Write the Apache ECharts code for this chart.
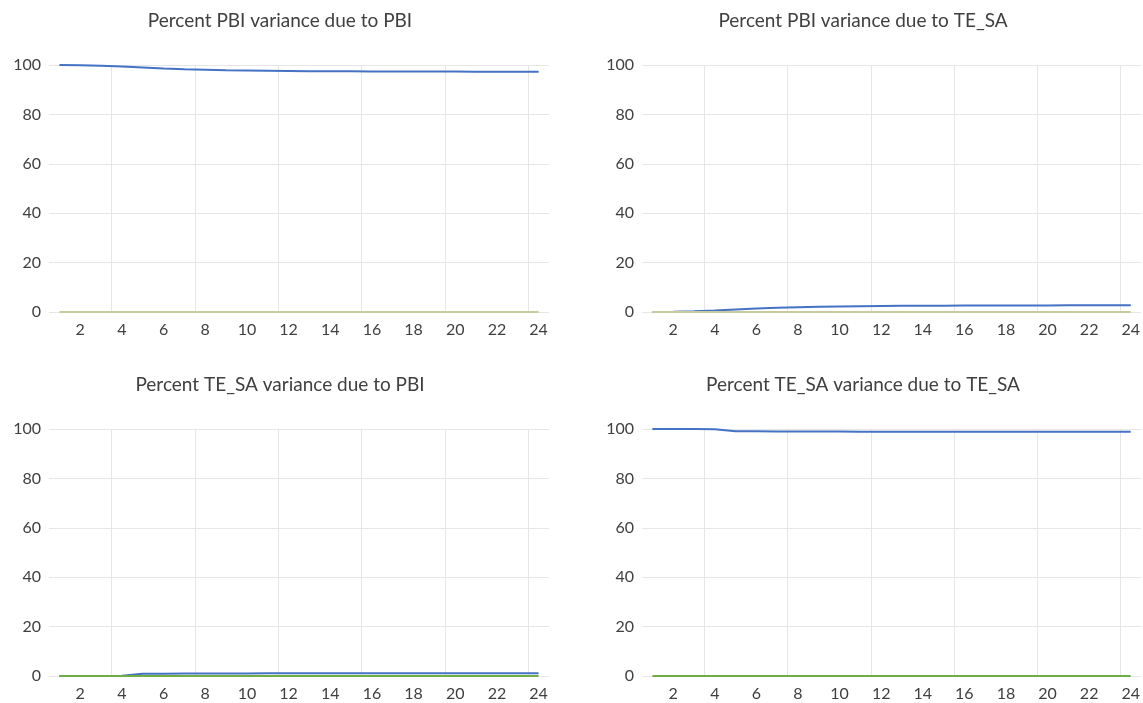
<!DOCTYPE html>
<html>
<head>
<meta charset="utf-8">
<title>Variance decomposition</title>
<script src="https://cdn.jsdelivr.net/npm/echarts@6/dist/echarts.min.js"></script>
<style>
  html, body { margin: 0; padding: 0; background: #ffffff; }
  #chart { width: 1143px; height: 703px; }
</style>
</head>
<body>
<div id="chart"></div>
<script>
// Forecast horizons (periods ahead)
const horizons = ['1','2','3','4','5','6','7','8','9','10','11','12',
                  '13','14','15','16','17','18','19','20','21','22','23','24'];

// Panel titles
const titles = [
  'Percent PBI variance due to PBI',
  'Percent PBI variance due to TE_SA',
  'Percent TE_SA variance due to PBI',
  'Percent TE_SA variance due to TE_SA'
];

// Variance decomposition shares (percent)
const pbiDuePbi = [100, 99.9, 99.7, 99.4, 99.0, 98.6, 98.3, 98.1, 97.9, 97.8, 97.7, 97.6,
                   97.5, 97.5, 97.45, 97.4, 97.4, 97.4, 97.35, 97.35, 97.3, 97.3, 97.3, 97.3];
const pbiDueTe  = [0, 0.1, 0.3, 0.6, 1.0, 1.4, 1.7, 1.9, 2.1, 2.2, 2.3, 2.4,
                   2.5, 2.5, 2.55, 2.6, 2.6, 2.6, 2.65, 2.65, 2.7, 2.7, 2.7, 2.7];
const teDuePbi  = [0, 0, 0.05, 0.1, 0.9, 0.95, 1.0, 1.0, 1.05, 1.05, 1.1, 1.1,
                   1.1, 1.1, 1.1, 1.1, 1.1, 1.1, 1.1, 1.1, 1.1, 1.1, 1.1, 1.1];
const teDueTe   = [100, 100, 99.95, 99.9, 99.1, 99.05, 99.0, 99.0, 98.95, 98.95, 98.9, 98.9,
                   98.9, 98.9, 98.9, 98.9, 98.9, 98.9, 98.9, 98.9, 98.9, 98.9, 98.9, 98.9];

// Second series in each panel (flat at zero)
const pbiOther = [0, 0, 0, 0, 0, 0, 0, 0, 0, 0, 0, 0, 0, 0, 0, 0, 0, 0, 0, 0, 0, 0, 0, 0];
const teOther  = [0, 0, 0, 0, 0, 0, 0, 0, 0, 0, 0, 0, 0, 0, 0, 0, 0, 0, 0, 0, 0, 0, 0, 0];

// Y axis ticks
const yTicks = { min: 0, max: 100, step: 20 };

const FONT = 'Lato';
const TEXT = '#404040';
const GRID_LINE = '#E6E6E6';
const BLUE = '#4472C4';
const OLIVE = '#C9CA9E';
const GREEN = '#70AD47';

const panels = [
  { main: pbiDuePbi, other: pbiOther, otherColor: OLIVE, left: 49,  top: 65,  titleX: 280 },
  { main: pbiDueTe,  other: pbiOther, otherColor: OLIVE, left: 642, top: 65,  titleX: 863 },
  { main: teDuePbi,  other: teOther,  otherColor: GREEN, left: 49,  top: 429, titleX: 280 },
  { main: teDueTe,   other: teOther,  otherColor: GREEN, left: 642, top: 429, titleX: 863 }
];

const option = {
  backgroundColor: '#ffffff',
  animation: false,
  textStyle: { fontFamily: FONT },
  title: panels.map((p, i) => ({
    text: titles[i],
    left: p.titleX,
    top: p.top - 54,
    padding: 0,
    textAlign: 'center',
    textStyle: { fontFamily: FONT, fontSize: 19, fontWeight: 'normal', color: TEXT }
  })),
  grid: panels.map(p => ({ left: p.left, top: p.top, width: 500, height: 247 })),
  xAxis: panels.map((p, i) => ({
    type: 'category',
    gridIndex: i,
    data: horizons,
    boundaryGap: true,
    axisLine: { show: false },
    axisTick: { show: false },
    axisLabel: {
      interval: (idx) => idx % 2 === 1,
      margin: 10,
      fontFamily: FONT, fontSize: 16, color: TEXT
    },
    // vertical gridlines every fourth category boundary
    splitLine: {
      show: true,
      interval: (idx) => idx % 4 === 3,
      showMaxLine: false,
      lineStyle: { color: GRID_LINE, width: 1 }
    }
  })),
  yAxis: panels.map((p, i) => ({
    type: 'value',
    gridIndex: i,
    min: yTicks.min,
    max: yTicks.max,
    interval: yTicks.step,
    axisLine: { show: false },
    axisTick: { show: false },
    axisLabel: { margin: 8, fontFamily: FONT, fontSize: 16, color: TEXT },
    splitLine: { show: true, lineStyle: { color: GRID_LINE, width: 1 } }
  })),
  series: []
};

panels.forEach((p, i) => {
  option.series.push({
    type: 'line',
    xAxisIndex: i, yAxisIndex: i,
    data: p.main,
    showSymbol: false,
    symbol: 'none',
    lineStyle: { color: BLUE, width: 2 },
    z: 3
  });
  option.series.push({
    type: 'line',
    xAxisIndex: i, yAxisIndex: i,
    data: p.other,
    showSymbol: false,
    symbol: 'none',
    lineStyle: { color: p.otherColor, width: 2 },
    z: 4
  });
});

const chart = echarts.init(document.getElementById('chart'), null, { renderer: 'canvas' });
chart.setOption(option);
</script>
</body>
</html>
